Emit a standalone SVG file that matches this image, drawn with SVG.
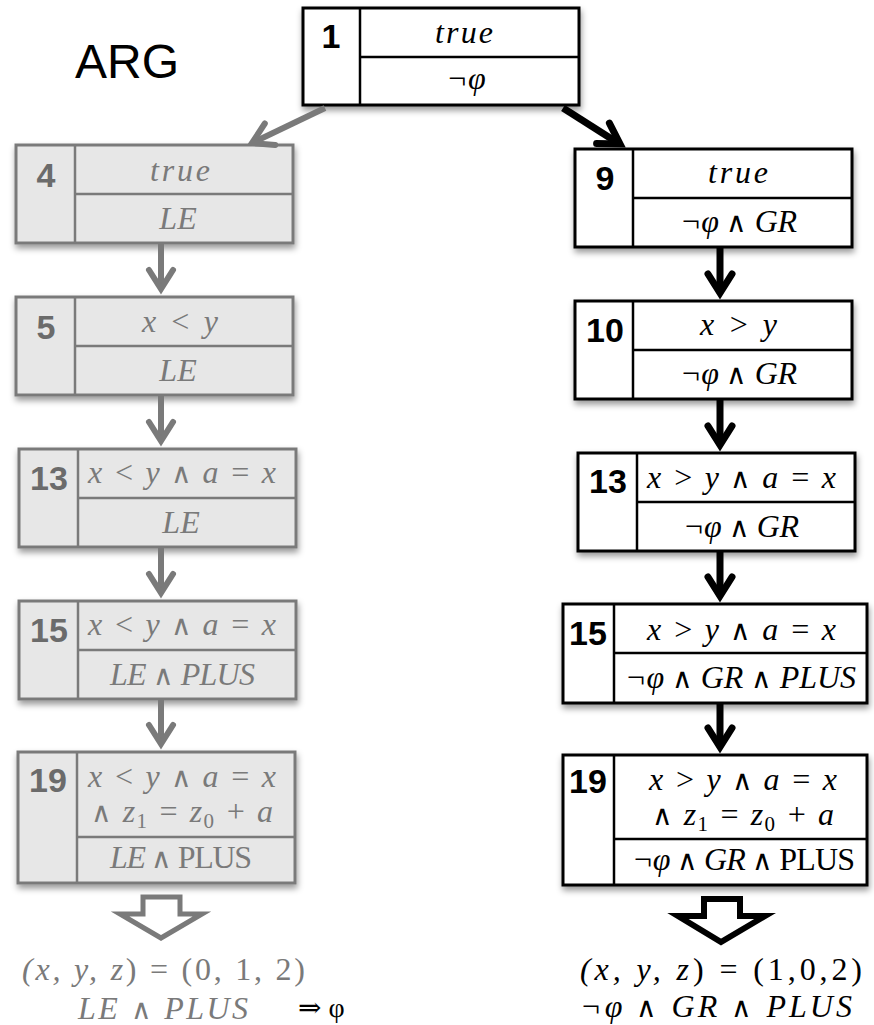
<svg xmlns="http://www.w3.org/2000/svg" width="874" height="1025" viewBox="0 0 874 1025">
<style>
.gbox{fill:#e7e7e7;stroke:#7a7a7a;stroke-width:3}
.bbox{fill:#fff;stroke:#000;stroke-width:3}
.gl{stroke:#7a7a7a;stroke-width:2.5}
.bl{stroke:#000;stroke-width:2.5}
.num{font-family:'Liberation Sans',Arial,sans-serif;font-weight:bold;font-size:34px;text-anchor:middle}
.m{font-family:'Liberation Serif','DejaVu Serif',serif;font-style:italic;font-size:32px;text-anchor:middle}
.up{font-style:normal}
.and{font-family:'DejaVu Sans',sans-serif;font-weight:200;font-style:normal;font-size:28px}
.sub{font-size:21px;font-style:normal}
.g{fill:#7a7a7a}
.gn{fill:#6b6b6b}
.k{fill:#000}
.ga{stroke:#7a7a7a;stroke-width:6;fill:none;stroke-linecap:round;stroke-linejoin:miter}
.ba{stroke:#000;stroke-width:7;fill:none;stroke-linecap:round;stroke-linejoin:miter}
.gs{stroke:#7a7a7a;stroke-width:6;fill:none}
.bs{stroke:#000;stroke-width:7;fill:none}
</style>
<defs>
<filter id="sh" x="-10%" y="-10%" width="130%" height="150%">
<feDropShadow dx="1" dy="4" stdDeviation="3" flood-color="#000" flood-opacity="0.4"/>
</filter>
</defs>

<text id="title" x="75" y="78" font-family="'Liberation Sans',Arial,sans-serif" font-size="48" fill="#000">ARG</text>

<g id="n1">
<rect class="bbox" x="303" y="8" width="276" height="97" filter="url(#sh)"/>
<line class="bl" x1="360" y1="8" x2="360" y2="105"/>
<line class="bl" x1="360" y1="57" x2="579" y2="57"/>
<text class="num k" x="331" y="48">1</text>
<text class="m k" x="464" y="43" textLength="58">true</text>
<text class="m k" x="466" y="89">¬φ</text>
</g>

<g id="n4">
<rect class="gbox" x="16" y="145" width="277" height="98" filter="url(#sh)"/>
<line class="gl" x1="75" y1="145" x2="75" y2="243"/>
<line class="gl" x1="75" y1="194" x2="293" y2="194"/>
<text class="num gn" x="46" y="187">4</text>
<text class="m g" x="180" y="181" textLength="60">true</text>
<text class="m g" x="178" y="229">LE</text>
</g>

<g id="n5">
<rect class="gbox" x="16" y="297" width="277" height="98" filter="url(#sh)"/>
<line class="gl" x1="75" y1="297" x2="75" y2="395"/>
<line class="gl" x1="75" y1="346" x2="293" y2="346"/>
<text class="num gn" x="46" y="339">5</text>
<text class="m g" x="180" y="332" textLength="76">x &lt; y</text>
<text class="m g" x="178" y="381">LE</text>
</g>

<g id="n13l">
<rect class="gbox" x="19" y="449" width="277" height="98" filter="url(#sh)"/>
<line class="gl" x1="78" y1="449" x2="78" y2="547"/>
<line class="gl" x1="78" y1="498" x2="296" y2="498"/>
<text class="num gn" x="49" y="490">13</text>
<text class="m g" x="182" y="483" textLength="188">x &lt; y <tspan class="and">∧</tspan> a = x</text>
<text class="m g" x="181" y="533">LE</text>
</g>

<g id="n15l">
<rect class="gbox" x="19" y="601" width="277" height="98" filter="url(#sh)"/>
<line class="gl" x1="78" y1="601" x2="78" y2="699"/>
<line class="gl" x1="78" y1="650" x2="296" y2="650"/>
<text class="num gn" x="49" y="642">15</text>
<text class="m g" x="182" y="635" textLength="188">x &lt; y <tspan class="and">∧</tspan> a = x</text>
<text class="m g" x="182.5" y="685" textLength="145">LE <tspan class="and">∧</tspan> PLUS</text>
</g>

<g id="n19l">
<rect class="gbox" x="18" y="752" width="277" height="131" filter="url(#sh)"/>
<line class="gl" x1="77" y1="752" x2="77" y2="883"/>
<line class="gl" x1="77" y1="837" x2="295" y2="837"/>
<text class="num gn" x="48" y="792">19</text>
<text class="m g" x="182" y="787" textLength="188">x &lt; y <tspan class="and">∧</tspan> a = x</text>
<text class="m g" x="182" y="822" textLength="182"><tspan class="and">∧</tspan> z<tspan class="sub" dy="6">1</tspan><tspan dy="-6"> = z</tspan><tspan class="sub" dy="6">0</tspan><tspan dy="-6"> + a</tspan></text>
<text class="m g" x="181" y="868" textLength="142">LE <tspan class="and">∧</tspan> <tspan class="up">PLUS</tspan></text>
</g>

<g id="n9">
<rect class="bbox" x="575" y="149" width="277" height="98" filter="url(#sh)"/>
<line class="bl" x1="633" y1="149" x2="633" y2="247"/>
<line class="bl" x1="633" y1="198" x2="852" y2="198"/>
<text class="num k" x="605" y="190">9</text>
<text class="m k" x="738" y="183" textLength="60">true</text>
<text class="m k" x="738.5" y="232" textLength="117">¬φ <tspan class="and">∧</tspan> GR</text>
</g>

<g id="n10">
<rect class="bbox" x="575" y="301" width="277" height="98" filter="url(#sh)"/>
<line class="bl" x1="633" y1="301" x2="633" y2="399"/>
<line class="bl" x1="633" y1="350" x2="852" y2="350"/>
<text class="num k" x="605" y="342">10</text>
<text class="m k" x="738.5" y="335" textLength="77">x &gt; y</text>
<text class="m k" x="738.5" y="384" textLength="117">¬φ <tspan class="and">∧</tspan> GR</text>
</g>

<g id="n13r">
<rect class="bbox" x="578" y="453" width="277" height="98" filter="url(#sh)"/>
<line class="bl" x1="637" y1="453" x2="637" y2="551"/>
<line class="bl" x1="637" y1="502" x2="855" y2="502"/>
<text class="num k" x="608" y="493">13</text>
<text class="m k" x="741.5" y="488" textLength="189">x &gt; y <tspan class="and">∧</tspan> a = x</text>
<text class="m k" x="741" y="537" textLength="116">¬φ <tspan class="and">∧</tspan> GR</text>
</g>

<g id="n15r">
<rect class="bbox" x="563" y="604" width="304" height="99" filter="url(#sh)"/>
<line class="bl" x1="614" y1="604" x2="614" y2="703"/>
<line class="bl" x1="614" y1="653" x2="867" y2="653"/>
<text class="num k" x="588" y="645">15</text>
<text class="m k" x="741.5" y="640" textLength="189">x &gt; y <tspan class="and">∧</tspan> a = x</text>
<text class="m k" x="740.5" y="688" textLength="231">¬φ <tspan class="and">∧</tspan>  GR <tspan class="and">∧</tspan> PLUS</text>
</g>

<g id="n19r">
<rect class="bbox" x="563" y="755" width="304" height="130" filter="url(#sh)"/>
<line class="bl" x1="614" y1="755" x2="614" y2="885"/>
<line class="bl" x1="614" y1="839" x2="867" y2="839"/>
<text class="num k" x="588" y="793">19</text>
<text class="m k" x="743" y="790" textLength="188">x &gt; y <tspan class="and">∧</tspan> a = x</text>
<text class="m k" x="743" y="825" textLength="182"><tspan class="and">∧</tspan> z<tspan class="sub" dy="6">1</tspan><tspan dy="-6"> = z</tspan><tspan class="sub" dy="6">0</tspan><tspan dy="-6"> + a</tspan></text>
<text class="m k" x="743.5" y="870" textLength="223">¬φ <tspan class="and">∧</tspan> GR <tspan class="and">∧</tspan> <tspan class="up">PLUS</tspan></text>
</g>

<g id="connectors">
<line class="gs" x1="325" y1="108" x2="254" y2="142"/>
<polyline class="ga" points="264.8,123.5 252,143 275.2,145.1"/>
<line class="bs" x1="563" y1="108" x2="618" y2="143"/>
<polyline class="ba" points="609.4,123.2 620,144 596.6,143.6"/>

<line class="gs" x1="161" y1="244" x2="161" y2="288"/>
<polyline class="ga" points="149,270 161,289 173,270"/>
<line class="gs" x1="161" y1="396" x2="161" y2="440"/>
<polyline class="ga" points="149,422 161,441 173,422"/>
<line class="gs" x1="161" y1="548" x2="161" y2="592"/>
<polyline class="ga" points="149,574 161,593 173,574"/>
<line class="gs" x1="161" y1="700" x2="161" y2="743"/>
<polyline class="ga" points="149,725 161,744 173,725"/>

<line class="bs" x1="720" y1="248" x2="720" y2="292"/>
<polyline class="ba" points="708,274 720,293 732,274"/>
<line class="bs" x1="720" y1="400" x2="720" y2="444"/>
<polyline class="ba" points="708,426 720,445 732,426"/>
<line class="bs" x1="720" y1="552" x2="720" y2="595"/>
<polyline class="ba" points="708,577 720,596 732,577"/>
<line class="bs" x1="720" y1="704" x2="720" y2="746"/>
<polyline class="ba" points="708,728 720,747 732,728"/>

<polygon points="143,897 180,897 180,914 202,914 161,938 120,914 143,914" fill="#fff" stroke="#7a7a7a" stroke-width="5" stroke-linejoin="miter"/>
<polygon points="704,899 740,899 740,916 765,916 721,942 678,916 704,916" fill="#fff" stroke="#000" stroke-width="6" stroke-linejoin="miter"/>
</g>

<g id="result-left">
<text class="m g" x="163.5" y="980" font-size="34" textLength="283">(<tspan>x, y, z</tspan><tspan class="up">) = (0, 1, 2)</tspan></text>
<text class="m g" x="163" y="1019" font-size="34" textLength="170">LE <tspan class="and" font-size="30">∧</tspan> PLUS</text>
<text x="298" y="1017" font-family="'Liberation Serif','DejaVu Serif',serif" font-size="28" fill="#000">⇒ φ</text>
</g>

<g id="result-right">
<text class="m k" x="721" y="980" font-size="34" textLength="282">(<tspan>x, y, z</tspan><tspan class="up">) = (1,0,2)</tspan></text>
<text class="m k" x="716" y="1017" font-size="34" textLength="272">¬φ <tspan class="and" font-size="30">∧</tspan> GR <tspan class="and" font-size="30">∧</tspan> PLUS</text>
</g>
</svg>
